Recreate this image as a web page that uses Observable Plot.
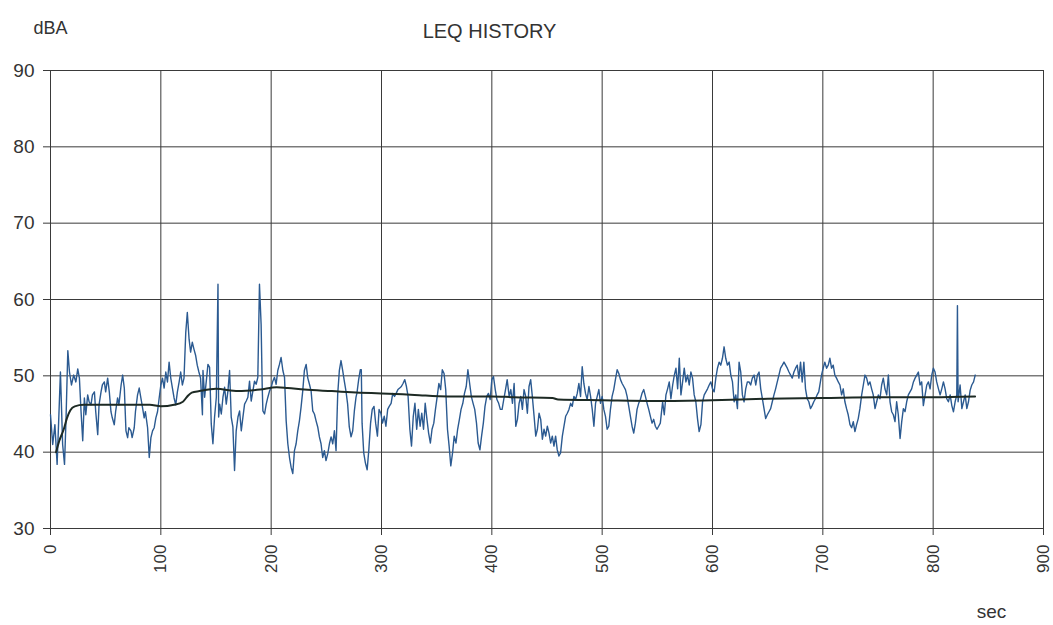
<!DOCTYPE html>
<html>
<head>
<meta charset="utf-8">
<script src="https://cdn.jsdelivr.net/npm/d3@7"></script>
<script src="https://cdn.jsdelivr.net/npm/@observablehq/plot@0.6"></script>
<style>
  html, body { margin: 0; padding: 0; background: #ffffff; }
  #chart svg { display: block; }
</style>
</head>
<body>
<div id="chart"></div>
<script>
// ---- Data ----
const xTicks = [0, 100, 200, 300, 400, 500, 600, 700, 800, 900];
const yTicks = [30, 40, 50, 60, 70, 80, 90];

// Instantaneous level (blue trace): time in seconds, level in dBA
const seconds = [
  0,2,4,6,9,11,12.7,14,15.7,17.2,19,21,23,24.7,26.2,27.7,29.2,30.7,32,33.7,35,36.7,38,39.8,41,42.8,44,45.8,47,48.8,
  50,51.8,53.3,54.8,56,57.8,59,60.8,62,64,65.4,66.9,68.4,69.9,71,72.9,74,75.9,77,78.9,80.4,81.9,83,84.9,86,88,89.5,91,92.5,94,
  95.5,97,98.5,100,101.5,103,104.5,106,107.5,109,110.5,112,113.5,115,116.6,118,119.5,121,122.6,124,125.6,127,128.5,130,131.5,133,134.5,136,137.7,
  138.2,139.7,141.2,142.7,144.2,145.7,147.2,148.7,150.3,151.8,152.4,153.3,154.8,156.3,157.8,159.3,160.8,162.3,163.8,165.3,166.8,168.3,169.9,171.4,172.9,174.4,175.9,177.4,178.9,180.4,
  181.9,183.4,184.9,186.4,187.9,189.4,190.9,191.9,192.5,194,195.5,197,198.5,200,201.5,203,204.5,206,207.5,209,210.6,212.1,213.6,215.1,216.6,218.1,219.6,221.1,222.6,224.1,
  225.6,227.1,228.6,230.1,231.7,233.2,234.7,236.2,237.7,239.2,240.7,242.2,243.7,245.2,246.7,248.2,249.7,251.3,252.8,254.3,255.8,257.3,258.8,260.3,261.8,263.3,264.8,266.3,267.8,269.3,
  270.8,272.4,273.9,275.4,276.9,277.7,279.3,280.8,281.7,282.4,283.9,285.4,287,288.5,290.1,291.6,293.2,294.7,296.3,297.8,299.4,300.9,302.5,304,305.6,307,308.7,310.2,311.8,313.3,
  314.9,316.5,318,319.5,321.1,322.6,324.1,325.7,327.2,328.8,330.3,331.9,333.4,335,336.5,338.1,339.6,341.2,342.7,344.3,345.8,347.4,348.9,350.5,352,353.6,355.1,356.7,358.2,359.8,
  361.3,362.8,364.4,365.9,367.5,369,370.6,372.1,373.7,375.2,376.8,378.3,379.9,381.4,383,384.5,386.1,387.6,389.2,390.7,392.3,393.8,395.4,396.9,398.5,400,401.5,403.1,404.6,406.2,
  407.7,409.3,410.8,412.4,413.9,415.7,417.2,418.7,420.2,421.7,423.2,424.7,426.2,427.7,429.2,430.7,432.2,433.7,435.2,436.7,438.3,439.8,441.3,442.8,444.3,445.8,447.3,448.8,450.3,451.8,
  453.3,454.8,456.3,457.8,459.3,460.8,462.3,463.9,465.4,466.9,468.4,469.9,471.4,472.9,474.4,475.9,477.4,478.9,480.4,481.9,483.4,484.9,486.4,488,489.5,491,492.5,494,495.5,497,
  498.5,500,501.5,503,504.5,506,507.5,509,510.5,512,513.6,515.1,516.6,518.1,519.6,521.1,522.6,524.1,525.6,527.1,528.6,530.1,531.6,533.1,534.6,536.1,537.7,539.2,540.7,542.2,
  543.7,545.2,546.7,548.2,549.7,551.2,552.7,554.8,556.3,557.8,559.3,560.8,562.3,563.9,565.4,566.9,568.4,569.9,571.4,572.9,574.4,575.9,577.4,578.9,580.4,581.9,583.4,584.9,586.4,587.9,
  589.5,591,592.5,594,595.5,597,598.5,600,601.5,603,604.5,606,607.5,609,610.5,612,613.5,615.1,616.6,618.1,619.6,621.1,622.6,624.1,625.6,627.1,628.6,630.1,631.6,633.1,
  634.6,636.1,637.7,639.2,640.7,642.2,643.7,645.2,646.7,648.2,649.7,651.2,652.7,654.2,655.7,657.2,658.7,660.2,661.7,663.3,664.8,666.3,667.8,669.3,670.8,672.3,673.8,675.3,676.8,678.3,
  679.8,681.3,682.8,684.3,685.8,687.3,688.8,690.3,691.8,693.3,694.8,696.3,698.8,700.3,701.8,703.4,704.9,706.4,707.9,709.4,710.9,712.4,714,715.5,717,718.5,720,721.5,723,724.6,
  726.1,727.6,729.1,730.6,732.1,733.6,735.2,736.7,738.2,739.7,741.2,742.7,744.2,745.7,747.3,748.8,750.3,751.8,753.3,754.8,756.3,757.9,759.4,760.9,762.4,763.9,765.4,766.9,768.4,770,
  771.5,773,774.5,776,777.5,779,780.5,782.1,783.6,785.1,786.6,788.1,789.6,791.1,792.7,794.2,795.7,797.2,798.7,800.2,801.7,803.2,804.8,806.3,807.8,809.3,810.8,812.3,813.8,815.4,
  816.9,818.4,819.9,821.4,822,822.6,824.4,826,827.5,829,830.5,832,833.5,835,836.6,838.1
];
const levelDb = [
  44.9,41,43.6,38.4,50.5,41,38.4,44,53.3,50.5,48.8,50.1,49.2,50.9,49.7,45.3,41.5,47.1,44.9,47.5,46.6,46.2,47.5,47.9,45.3,42.3,46.2,47.9,48.8,49.2,
  47.9,49.7,47.9,45.3,44.5,43.6,45.3,47.1,46.2,48.8,50.1,48.4,42.8,41.9,43.2,42.8,41.9,43.2,45.3,47.5,48.4,47.1,46.2,44.5,45.3,43.2,39.3,41.9,42.8,43.2,
  44.5,45.3,47.1,48.8,49.7,48.4,50.5,49.2,51.8,49.7,48.4,47.1,46.2,47.9,49.2,50.5,48.8,49.7,55.7,58.3,54.8,53.1,54.4,53.5,52.7,51.4,50.5,49.7,44.9,
  50.7,47.2,49.3,51.5,51.1,43.7,41.1,44.6,47.2,62,44.6,46.3,45,47.2,48.5,46.3,48,50.7,44.6,43.3,37.6,42.8,44.6,45.4,42.8,44.6,46.3,46.7,47.2,49.3,
  46.7,48,49.3,48.9,49.8,62,56.7,48.5,45.4,45,46.3,47.2,48,48.5,49.3,49.8,48.9,50.7,51.5,52.4,50.7,49.8,44.1,41.1,39.3,38,37.2,40.2,41.1,42.8,
  44.1,45.9,48,50.7,51.5,49.7,48.9,48,45.4,45,44.1,43.3,42,41.1,39.3,40.2,38.9,39.8,41.1,42,41.1,42.8,40.2,47.6,50.7,52,50.7,49.3,48,46.3,
  43.3,42,42.8,45.4,47.2,47.7,49.5,50.8,50.8,43.8,39.9,38.6,37.7,40.3,43.8,45.6,46,43.8,42.1,45.6,45.1,43.8,44.7,43.4,45.6,46,46.4,47.7,47.3,47.7,
  48.2,48.4,48.6,49,49.5,48.6,47.3,43,40.8,44.7,46.4,43,45.6,43.4,45.1,43,46.4,44.3,42.5,41.2,43,43.8,45.6,47.3,49,48.2,50.8,50.3,48.2,43,
  40.8,38.2,39.9,42.1,41.2,43,44.3,45.6,46.4,47.7,48.6,50.8,49,47.3,46.4,45.6,43.8,41.2,40.3,42.1,43.8,46,47.3,47.7,46.9,49.5,49.9,48.2,46.9,46.4,
  45.6,45.6,46.9,48.2,49.5,47.3,48.2,46.4,49,43.4,44.3,46.4,47.3,45.6,48.2,47.3,45.1,48.6,49.5,47.3,44.7,42.1,43,45.1,44.3,41.7,43,42.1,43.4,42.5,
  41.2,42.1,40.8,42.1,40.3,39.5,39.9,42.1,43.4,44.7,45.1,45.6,46.4,46,47.3,46.9,47.7,49,47.3,51.2,49,47.7,46.9,48.6,47.3,45.6,43.4,46.4,47.3,48.2,
  46.4,47.3,45.6,44.7,43,43.4,45.6,47.3,48.2,49.5,50.8,50.3,49.5,49,48.6,48.2,47.3,46,44.7,43.4,42.5,43.8,45.6,46.4,46.9,47.7,48.2,47.3,46.4,45.6,
  44.7,43.8,44.3,43.4,43,43.4,43.8,46.6,44.9,47.5,48.3,49.2,47,48.8,50.1,51,48.3,52.3,47.5,49.2,51,49.2,50.1,48.8,50.5,49.7,47.5,46.6,44.4,42.7,
  43.6,46.6,47.5,47.9,48.3,48.8,49.2,48.3,47.9,49.7,51,51.8,51.4,52.3,53.8,52.3,51.4,51.8,50.1,49.2,46.6,47.5,45.7,51.8,50.5,47.5,46.6,48.3,49.2,49.2,
  48.8,49.7,50.1,48.8,50.1,50.5,48.3,47,45.7,44.4,44.9,45.3,45.7,46.6,47.5,48.3,49.2,50.1,51,51.4,51.8,51.4,51,50.5,50.1,49.7,50.5,51,51.4,49.7,
  51.8,49.2,51.8,48.3,47,46.6,45.7,46.1,46.6,47,47.5,47.9,50.1,51,51.8,51,51.4,52.3,51,51.4,50.1,49.7,49.2,48.8,47.5,48.3,46.6,45.7,44.9,43.6,
  43.2,44,42.7,43.6,44.4,45.7,47.5,48.8,50.1,49.7,48.8,49.2,48.3,47.5,45.7,46.6,47.5,47,48.8,49.7,48.3,47.5,50.1,46.6,45.3,44.9,44,46.6,44.9,41.8,
  44,45.7,45.3,46.6,47.5,47.9,48.3,49.2,49.7,50.1,50.5,48.8,49.2,46.1,47.5,48.8,49.2,48.3,50.1,51,50.5,49.2,48.3,47.5,48.3,49.2,48.3,47,46.6,47.5,
  46.1,45.3,46.6,47.5,59.2,46.6,48.8,45.7,46.6,47.5,45.7,46.6,48.1,48.8,49.2,50.1
];

// Running Leq (dark trace)
const leqSeconds = [5, 8, 12, 15, 18, 22, 30, 60, 90, 100, 112, 120, 124, 128, 135, 150, 170, 190, 205, 215, 230, 255, 280, 300, 330, 360, 400, 420, 455, 460, 500, 550, 600, 650, 700, 750, 800, 838];
const leqDb      = [40, 41.5, 43, 44.5, 45.5, 46, 46.2, 46.2, 46.2, 46, 46.2, 46.6, 47.3, 47.8, 48, 48.3, 48, 48.2, 48.5, 48.4, 48.2, 48, 47.8, 47.7, 47.5, 47.3, 47.3, 47.2, 47.1, 46.9, 46.8, 46.7, 46.8, 47, 47.1, 47.2, 47.2, 47.3];

// ---- Build tables for the library ----
const trace = seconds.map((s, i) => ({ s, v: levelDb[i] }));
const leq = leqSeconds.map((s, i) => ({ s, v: leqDb[i] }));

const font = "'Liberation Sans', Arial, sans-serif";
const ink = "#333333";

const chart = Plot.plot({
  width: 1053,
  height: 625,
  marginLeft: 50,
  marginRight: 10,
  marginTop: 70,
  marginBottom: 97,
  style: { fontFamily: font, background: "#ffffff", color: ink, overflow: "visible" },
  x: { domain: [0, 900], label: null },
  y: { domain: [30, 90], label: null },
  marks: [
    Plot.gridX(xTicks, { stroke: "#3a3a3a", strokeOpacity: 1, strokeWidth: 1 }),
    Plot.gridY(yTicks, { stroke: "#3a3a3a", strokeOpacity: 1, strokeWidth: 1 }),
    Plot.axisX(xTicks, { tickRotate: -90, tickSize: 7, tickPadding: 9, fontSize: 17, tickFormat: d => String(d), stroke: "#3a3a3a" }),
    Plot.axisY(yTicks, { tickSize: 7, tickPadding: 9, fontSize: 19, tickFormat: d => String(d), stroke: "#3a3a3a" }),
    Plot.line(trace, { x: "s", y: "v", stroke: "#2b5a91", strokeWidth: 1.4 }),
    Plot.line(leq, { x: "s", y: "v", stroke: "#1d2a24", strokeWidth: 2, curve: "monotone-x" }),
    Plot.text(["dBA"], { frameAnchor: "top-left", dx: 0, dy: -49, text: d => d, fontSize: 18, textAnchor: "middle", fill: ink }),
    Plot.text(["LEQ HISTORY"], { frameAnchor: "top", dx: -57.5, dy: -46.5, text: d => d, fontSize: 20, textAnchor: "middle", fill: ink }),
    Plot.text(["sec"], { frameAnchor: "bottom-right", dx: -52, dy: 89, text: d => d, fontSize: 19, textAnchor: "middle", fill: ink })
  ]
});

document.getElementById("chart").appendChild(chart);
</script>
</body>
</html>
